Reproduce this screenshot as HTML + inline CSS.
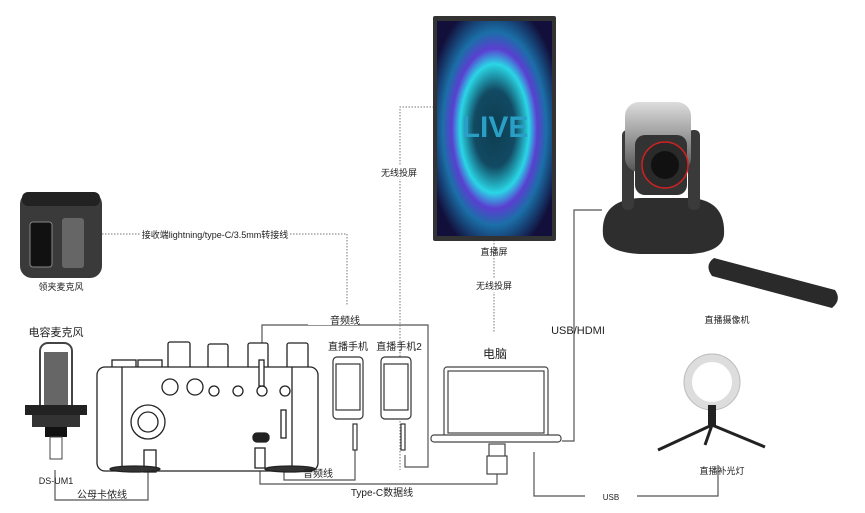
<!DOCTYPE html>
<html><head><meta charset="utf-8"><style>
html,body{margin:0;padding:0;background:#fff;}
svg{display:block;}
text{font-family:"Liberation Sans","Noto Sans CJK SC",sans-serif;fill:#222;}
</style></head><body>
<svg width="865" height="513" viewBox="0 0 865 513" xmlns="http://www.w3.org/2000/svg">
<defs>
<radialGradient id="g1" cx="50%" cy="50%" r="60%">
<stop offset="0" stop-color="#0d3d50"/><stop offset="0.3" stop-color="#124a63"/><stop offset="0.5" stop-color="#2ad6e6"/><stop offset="0.62" stop-color="#5a3fd0"/><stop offset="0.75" stop-color="#1b6fa8"/><stop offset="1" stop-color="#120f3a"/>
</radialGradient>
<linearGradient id="cam" x1="0" y1="0" x2="0" y2="1"><stop offset="0" stop-color="#ddd"/><stop offset="1" stop-color="#555"/></linearGradient>
</defs>
<g stroke="#777" stroke-width="1" stroke-dasharray="1.5,1.5" fill="none">
<path d="M434 107 H400 V470"/>
<path d="M494 240 V332"/>
<path d="M102 234 H140 M290 234 H347 V305"/>
</g>
<g stroke="#555" stroke-width="1.2" fill="none">
<path d="M262 372 V325 H428 V467 H405 V455"/>
<path d="M284 410 V480 H355 V425"/>
<path d="M260 460 V484 H497 V470"/>
<path d="M55 470 V500 H148 V470"/>
<path d="M562 441 H574 V210 H602"/>
<path d="M534 452 V496 H585 M637 496 H718 V465"/>
</g>
<rect x="433" y="16" width="123" height="225" rx="2" fill="#333"/>
<rect x="437" y="21" width="115" height="215" fill="url(#g1)"/>
<text x="495" y="137" font-size="30" font-weight="bold" text-anchor="middle" style="fill:#2a9fc6">LIVE</text>
<text x="494" y="255" font-size="9" text-anchor="middle">直播屏</text>
<rect x="377" y="166" width="44" height="13" fill="#fff"/>
<text x="399" y="176" font-size="9" text-anchor="middle">无线投屏</text>
<rect x="472" y="279" width="44" height="13" fill="#fff"/>
<text x="494" y="289" font-size="9" text-anchor="middle">无线投屏</text>
<rect x="20" y="192" width="82" height="86" rx="12" fill="#3a3a3a"/>
<rect x="22" y="192" width="78" height="14" rx="6" fill="#222"/>
<rect x="30" y="222" width="22" height="45" rx="3" fill="#111" stroke="#888"/>
<rect x="62" y="218" width="22" height="50" rx="3" fill="#666"/>
<text x="61" y="290" font-size="9" text-anchor="middle">领夹麦克风</text>
<text x="215" y="238" font-size="9" text-anchor="middle">接收端lightning/type-C/3.5mm转接线</text>
<text x="56" y="336" font-size="11" text-anchor="middle">电容麦克风</text>
<rect x="40" y="343" width="32" height="70" rx="8" fill="none" stroke="#444" stroke-width="2"/>
<rect x="44" y="352" width="24" height="62" fill="#666"/>
<rect x="25" y="405" width="62" height="10" fill="#222"/>
<rect x="32" y="415" width="48" height="12" fill="#333"/>
<rect x="45" y="427" width="22" height="10" fill="#111"/>
<rect x="50" y="437" width="12" height="22" fill="#fff" stroke="#444"/>
<text x="56" y="484" font-size="9" text-anchor="middle">DS-UM1</text>
<text x="102" y="498" font-size="10" text-anchor="middle">公母卡侬线</text>
<g stroke="#222" stroke-width="1.3" fill="#fff">
<rect x="168" y="342" width="22" height="28" rx="2"/><rect x="208" y="344" width="20" height="26" rx="2"/><rect x="248" y="343" width="20" height="27" rx="2"/><rect x="287" y="343" width="21" height="27" rx="2"/>
<rect x="112" y="360" width="24" height="10"/><rect x="138" y="360" width="24" height="10"/>
<rect x="97" y="367" width="221" height="104" rx="8"/>
<path d="M122 367 V470 M292 367 V470"/>
<circle cx="170" cy="387" r="8"/><circle cx="195" cy="387" r="8"/>
<circle cx="214" cy="391" r="5"/><circle cx="238" cy="391" r="5"/><circle cx="262" cy="391" r="5"/><circle cx="285" cy="391" r="5"/>
<circle cx="148" cy="422" r="17"/><circle cx="148" cy="422" r="10"/>
<rect x="144" y="450" width="12" height="22"/>
<rect x="253" y="433" width="16" height="9" rx="4" fill="#222"/>
<rect x="255" y="448" width="10" height="20"/>
<rect x="281" y="410" width="5" height="28"/>
<rect x="259" y="360" width="5" height="26"/>
<ellipse cx="135" cy="469" rx="25" ry="3" fill="#333"/><ellipse cx="290" cy="469" rx="25" ry="3" fill="#333"/>
</g>
<rect x="308" y="313" width="50" height="12" fill="#fff"/>
<text x="345" y="324" font-size="10" text-anchor="middle">音频线</text>
<text x="318" y="477" font-size="10" text-anchor="middle">音频线</text>
<rect x="352" y="486" width="60" height="12" fill="#fff"/>
<text x="382" y="496" font-size="10" text-anchor="middle">Type-C数据线</text>
<text x="348" y="350" font-size="10" text-anchor="middle">直播手机</text>
<text x="399" y="350" font-size="10" text-anchor="middle">直播手机2</text>
<g stroke="#333" stroke-width="1.2" fill="#fff">
<rect x="333" y="357" width="30" height="62" rx="4"/><rect x="336" y="364" width="24" height="46"/>
<rect x="381" y="357" width="30" height="62" rx="4"/><rect x="384" y="364" width="24" height="46"/>
<rect x="353" y="424" width="4" height="26"/><rect x="401" y="424" width="4" height="26"/>
</g>
<text x="495" y="358" font-size="12" text-anchor="middle">电脑</text>
<g stroke="#444" stroke-width="1.2" fill="#fff">
<rect x="444" y="367" width="104" height="72" rx="3"/><rect x="448" y="371" width="96" height="62"/>
<rect x="431" y="435" width="130" height="7" rx="3"/>
<rect x="489" y="444" width="16" height="14"/><rect x="487" y="456" width="20" height="18"/>
</g>
<text x="578" y="334" font-size="11" text-anchor="middle" style="fill:#222">USB/HDMI</text>
<text x="611" y="500" font-size="8" text-anchor="middle">USB</text>
<path d="M603 235 Q600 200 640 198 L690 198 Q726 200 724 235 Q722 252 690 254 L640 254 Q605 252 603 235Z" fill="#2e2e2e"/>
<rect x="622" y="130" width="12" height="80" rx="5" fill="#3a3a3a"/>
<rect x="688" y="130" width="12" height="80" rx="5" fill="#3a3a3a"/>
<rect x="625" y="102" width="66" height="70" rx="14" fill="url(#cam)"/>
<rect x="635" y="135" width="52" height="60" rx="10" fill="#333"/>
<circle cx="665" cy="165" r="23" fill="#2a2a2a" stroke="#c22" stroke-width="1.5"/>
<circle cx="665" cy="165" r="14" fill="#111"/>
<path d="M714 258 L835 290 Q842 300 832 308 L712 276 Q704 265 714 258Z" fill="#2a2a2a"/>
<text x="727" y="323" font-size="9" text-anchor="middle">直播摄像机</text>
<circle cx="712" cy="382" r="24" fill="none" stroke="#ddd" stroke-width="8"/>
<circle cx="712" cy="382" r="28" fill="none" stroke="#bbb" stroke-width="1"/>
<g stroke="#222" stroke-width="3" fill="none">
<path d="M712 410 V425"/><path d="M712 425 L658 450 M712 425 L765 447 M712 425 L705 445"/>
</g>
<rect x="708" y="405" width="8" height="20" fill="#222"/>
<text x="722" y="474" font-size="9" text-anchor="middle">直播补光灯</text>
</svg>
</body></html>
